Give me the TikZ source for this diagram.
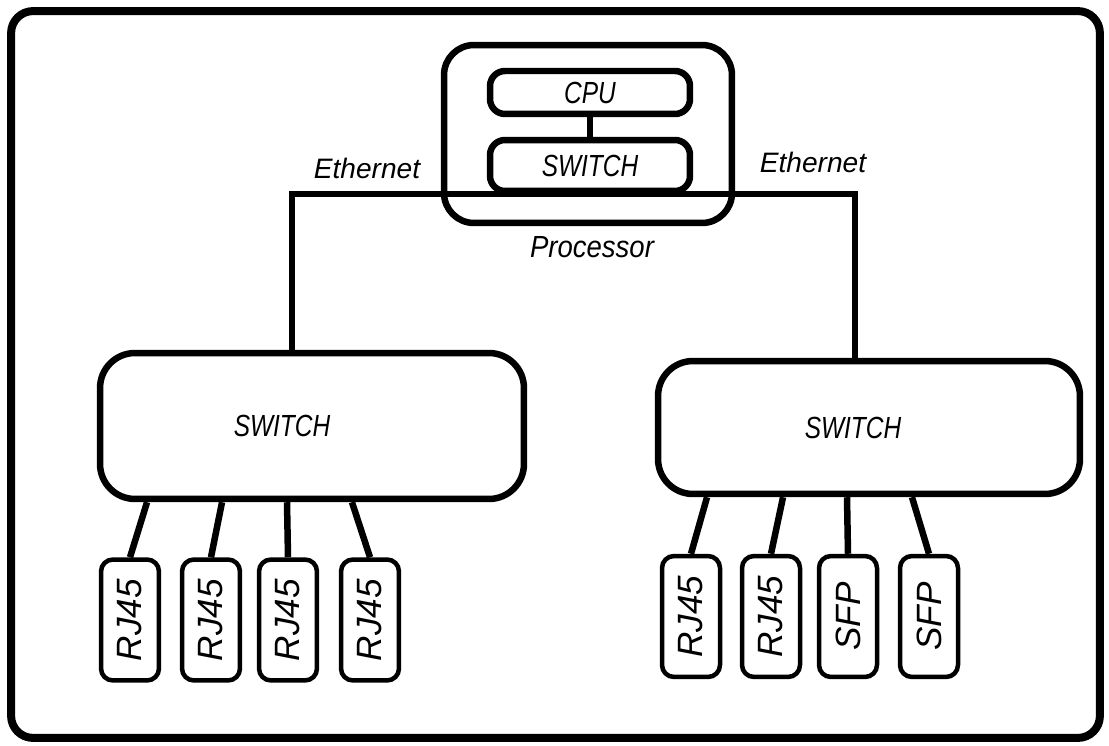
\documentclass[tikz,border=0pt]{standalone}
\usepackage{fontspec}
\setmainfont{Liberation Sans}
\usepackage{graphicx}
\usepackage{tikz}
\usetikzlibrary{positioning,calc}
\newcommand{\narrow}[1]{\scalebox{0.8}[1]{#1}}
\tikzset{
  box/.style={draw, line width=0.13cm, rounded corners=0.7cm, inner sep=0pt},
  port/.style={draw, line width=0.09cm, rounded corners=0.24cm, inner sep=0pt,
    minimum width=1.16cm, minimum height=2.42cm, font=\fontsize{20}{22}\selectfont\itshape},
  gost/.style={font=\fontsize{17.4}{20}\selectfont\itshape},
  eth/.style={font=\fontsize{16}{18}\selectfont\itshape},
  link/.style={line width=0.13cm},
}

\begin{document}
\begin{tikzpicture}[x=0.02cm, y=-0.02cm]
\useasboundingbox (0,0) rectangle (1109,746);
\node[draw, line width=0.16cm, rounded corners=0.44cm, minimum width=21.78cm,
  minimum height=14.54cm] (frame) at (555.5,374.5) {};

% processor
\node[box, rounded corners=0.6cm, minimum width=5.76cm, minimum height=3.56cm] (proc) at (588,134) {};
\node[box, rounded corners=0.3cm, minimum width=4cm, minimum height=0.86cm, gost] (cpu) at (590,92.5) {\narrow{CPU}};
\node[box, rounded corners=0.3cm, minimum width=4cm, minimum height=1.02cm, gost] (psw) at (590,165.5) {\narrow{SWITCH}};
\node[gost] (plabel) at (592,247) {\scalebox{0.9}[1]{Processor}};
\draw[link] (cpu) -- (psw);

% switches
\node[box, minimum width=8.48cm, minimum height=2.92cm,
  label={[gost,xshift=-6mm]center:\narrow{SWITCH}}] (lsw) at (312,426) {};
\node[box, minimum width=8.44cm, minimum height=2.66cm,
  label={[gost,xshift=-3.2mm]center:\narrow{SWITCH}}] (rsw) at (869,427.5) {};

\draw[link] (psw.south) -| ([xshift=-4mm]lsw.north);
\draw[link] (psw.south) -| ([xshift=-2.8mm]rsw.north);
\node[eth] (ethl) at (367,168) {Ethernet};
\node[eth] (ethr) at (813,162) {Ethernet};

% ports
\foreach \x/\t [count=\i] in {130/RJ45, 211/RJ45, 288/RJ45, 370/RJ45}
  \node[port] (l\i) at (\x,620) {\rotatebox{90}{\t}};
\foreach \x/\t [count=\i] in {691/RJ45, 771/RJ45, 848/SFP, 929/SFP}
  \node[port] (r\i) at (\x,616.5) {\rotatebox{90}{\t}};

\foreach \dx [count=\i] in {-3.3,-1.8,-0.5,0.8}
  \draw[link] ([xshift=\dx cm]lsw.south) -- (l\i.north);
\foreach \dx [count=\i] in {-3.24,-1.72,-0.44,0.86}
  \draw[link] ([xshift=\dx cm]rsw.south) -- (r\i.north);
\end{tikzpicture}
\end{document}
